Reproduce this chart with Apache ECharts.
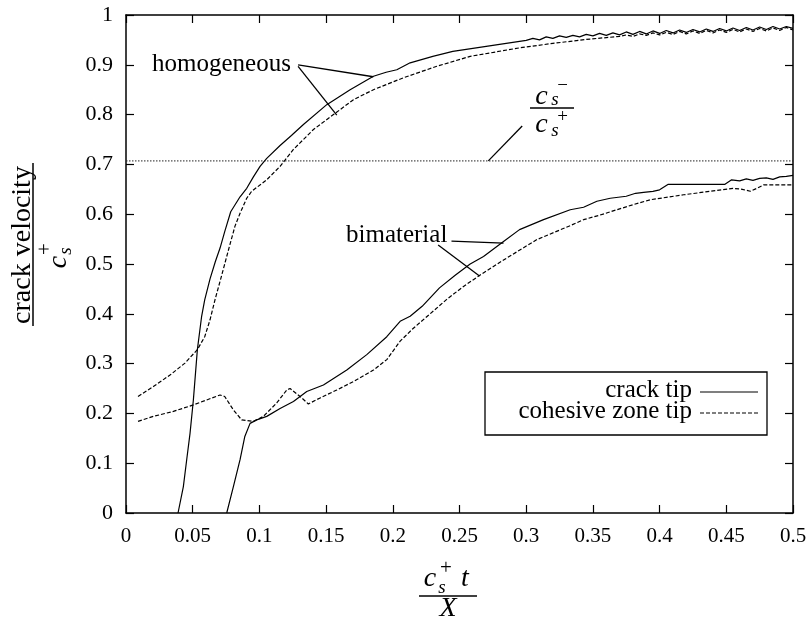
<!DOCTYPE html>
<html>
<head>
<meta charset="utf-8">
<script src="https://cdn.jsdelivr.net/npm/echarts@6/dist/echarts.min.js"></script>
<style>
  html, body { margin: 0; padding: 0; background: #fff; }
  #chart { width: 810px; height: 621px; }
</style>
</head>
<body>
<div id="chart"></div>
<script>
// Crack-tip and cohesive-zone-tip velocities (normalised by c_s^+) versus c_s^+ t / X

// homogeneous case, crack tip
const homCrackTip = [
  [0.039, 0], [0.043, 0.053], [0.0455, 0.107], [0.048, 0.16], [0.0505, 0.227],
  [0.0535, 0.328], [0.0567, 0.395], [0.059, 0.428], [0.063, 0.47], [0.067, 0.505],
  [0.0705, 0.532], [0.074, 0.565], [0.0785, 0.605], [0.0855, 0.635], [0.0905, 0.652],
  [0.0955, 0.675], [0.1005, 0.696], [0.1055, 0.712], [0.1155, 0.738], [0.124, 0.758],
  [0.133, 0.78], [0.1505, 0.82], [0.168, 0.85], [0.1855, 0.877], [0.195, 0.885],
  [0.203, 0.89], [0.213, 0.904], [0.23, 0.917], [0.245, 0.927], [0.27, 0.937],
  [0.295, 0.947], [0.30, 0.949], [0.305, 0.953], [0.31, 0.950], [0.315, 0.956],
  [0.32, 0.953], [0.325, 0.958], [0.33, 0.955], [0.335, 0.959], [0.34, 0.956],
  [0.345, 0.961], [0.35, 0.958], [0.355, 0.963], [0.36, 0.959], [0.365, 0.964],
  [0.37, 0.960], [0.375, 0.966], [0.38, 0.961], [0.385, 0.967], [0.39, 0.962],
  [0.395, 0.968], [0.40, 0.963], [0.405, 0.969], [0.41, 0.964], [0.415, 0.970],
  [0.42, 0.965], [0.425, 0.971], [0.43, 0.966], [0.435, 0.972], [0.44, 0.967],
  [0.445, 0.973], [0.45, 0.968], [0.455, 0.974], [0.46, 0.969], [0.465, 0.975],
  [0.47, 0.970], [0.475, 0.976], [0.48, 0.971], [0.485, 0.977], [0.49, 0.972],
  [0.495, 0.977], [0.5, 0.973]
];

// homogeneous case, cohesive zone tip
const homZoneTip = [
  [0.009, 0.234], [0.0205, 0.254], [0.033, 0.277], [0.0442, 0.301], [0.0535, 0.328],
  [0.059, 0.354], [0.063, 0.388], [0.0667, 0.428], [0.071, 0.47], [0.0745, 0.505],
  [0.078, 0.54], [0.0817, 0.576], [0.0855, 0.602], [0.0905, 0.632], [0.0942, 0.646],
  [0.1055, 0.669], [0.1155, 0.696], [0.1255, 0.73], [0.1405, 0.77], [0.1555, 0.80],
  [0.1705, 0.83], [0.1855, 0.85], [0.208, 0.874], [0.233, 0.897], [0.258, 0.917],
  [0.295, 0.934], [0.32, 0.943], [0.345, 0.951], [0.37, 0.957], [0.375, 0.960],
  [0.38, 0.957], [0.385, 0.962], [0.39, 0.959], [0.395, 0.964], [0.40, 0.960],
  [0.405, 0.965], [0.41, 0.961], [0.415, 0.967], [0.42, 0.962], [0.425, 0.968],
  [0.43, 0.963], [0.435, 0.969], [0.44, 0.964], [0.445, 0.970], [0.45, 0.965],
  [0.455, 0.971], [0.46, 0.966], [0.465, 0.972], [0.47, 0.967], [0.475, 0.973],
  [0.48, 0.968], [0.485, 0.974], [0.49, 0.969], [0.495, 0.975], [0.5, 0.970]
];

// bimaterial case, crack tip
const bimCrackTip = [
  [0.0755, 0], [0.0805, 0.053], [0.0855, 0.107], [0.089, 0.153], [0.093, 0.18],
  [0.098, 0.187], [0.1055, 0.194], [0.1155, 0.21], [0.1255, 0.224], [0.1355, 0.244],
  [0.148, 0.257], [0.1655, 0.287], [0.1805, 0.318], [0.1955, 0.354], [0.2055, 0.385],
  [0.213, 0.395], [0.222, 0.415], [0.235, 0.452], [0.247, 0.478], [0.258, 0.50],
  [0.268, 0.515], [0.283, 0.545], [0.295, 0.569], [0.313, 0.589], [0.333, 0.609],
  [0.343, 0.614], [0.353, 0.626], [0.363, 0.632], [0.375, 0.636], [0.382, 0.642],
  [0.388, 0.644], [0.395, 0.646], [0.40, 0.649], [0.4065, 0.66], [0.449, 0.66],
  [0.454, 0.669], [0.46, 0.667], [0.465, 0.671], [0.47, 0.668], [0.475, 0.672],
  [0.48, 0.673], [0.485, 0.670], [0.49, 0.675], [0.495, 0.676], [0.5, 0.678]
];

// bimaterial case, cohesive zone tip
const bimZoneTip = [
  [0.009, 0.184], [0.0205, 0.194], [0.0355, 0.204], [0.0505, 0.217], [0.0605, 0.227],
  [0.0705, 0.237], [0.074, 0.234], [0.0805, 0.207], [0.0867, 0.187], [0.0955, 0.184],
  [0.103, 0.194], [0.113, 0.221], [0.1205, 0.247], [0.123, 0.25], [0.1305, 0.234],
  [0.1367, 0.219], [0.1455, 0.231], [0.158, 0.247], [0.1705, 0.264], [0.1855, 0.287],
  [0.1955, 0.308], [0.2055, 0.345], [0.215, 0.37], [0.228, 0.40], [0.24, 0.428],
  [0.253, 0.455], [0.265, 0.477], [0.283, 0.508], [0.308, 0.549], [0.333, 0.577],
  [0.343, 0.589], [0.355, 0.598], [0.368, 0.609], [0.38, 0.619], [0.393, 0.629],
  [0.418, 0.639], [0.438, 0.646], [0.455, 0.652], [0.462, 0.650], [0.468, 0.646],
  [0.473, 0.652], [0.478, 0.659], [0.5, 0.659]
];

// wave-speed ratio c_s^- / c_s^+
const speedRatio = [[0, 0.707], [0.5, 0.707]];

// axis ranges
const xRange = [0, 0.5, 0.05];
const yRange = [0, 1, 0.1];

const serif = '"Liberation Serif", "Times New Roman", serif';
const black = '#000';

const chart = echarts.init(document.getElementById('chart'), null, { renderer: 'canvas' });

function xAxisDef(pos, labels) {
  return {
    type: 'value', position: pos, min: xRange[0], max: xRange[1], interval: xRange[2],
    axisLine: { show: true, onZero: false, lineStyle: { color: black, width: 1.5 } },
    axisTick: { show: true, inside: true, length: 8, lineStyle: { color: black, width: 1.2 } },
    axisLabel: { show: labels, color: black, fontFamily: serif, fontSize: 21, margin: 13 },
    splitLine: { show: false }
  };
}
function yAxisDef(pos, labels) {
  return {
    type: 'value', position: pos, min: yRange[0], max: yRange[1], interval: yRange[2],
    axisLine: { show: true, onZero: false, lineStyle: { color: black, width: 1.5 } },
    axisTick: { show: true, inside: true, length: 8, lineStyle: { color: black, width: 1.2 } },
    axisLabel: { show: labels, color: black, fontFamily: serif, fontSize: 22, margin: 13 },
    splitLine: { show: false }
  };
}

function lineSeries(name, data, dashed) {
  return {
    name, type: 'line', data, symbol: 'none', silent: true, smooth: false,
    xAxisIndex: 0, yAxisIndex: 0, clip: true,
    lineStyle: { color: black, width: 1.2, type: dashed ? [4, 2] : 'solid' }
  };
}

chart.setOption({
  animation: false,
  backgroundColor: '#fff',
  grid: { left: 126, right: 17, top: 15, bottom: 108 },
  xAxis: [xAxisDef('bottom', true), xAxisDef('top', false)],
  yAxis: [yAxisDef('left', true), yAxisDef('right', false)],
  series: [
    lineSeries('homogeneous crack tip', homCrackTip, false),
    lineSeries('homogeneous cohesive zone tip', homZoneTip, true),
    lineSeries('bimaterial crack tip', bimCrackTip, false),
    lineSeries('bimaterial cohesive zone tip', bimZoneTip, true),
    {
      name: 'c_s- / c_s+', type: 'line', data: speedRatio, symbol: 'none', silent: true,
      lineStyle: { color: '#222', width: 1, type: [1.5, 1.5] }
    }
  ]
});

// convert a data point to pixels
const px = (p) => chart.convertToPixel({ xAxisIndex: 0, yAxisIndex: 0 }, p);

function txt(text, x, y, size, opts) {
  opts = opts || {};
  return {
    type: 'text', x, y, rotation: opts.rotation || 0, silent: true,
    style: {
      text, fill: black,
      font: (opts.italic ? 'italic ' : '') + size + 'px ' + serif,
      align: opts.align || 'center', verticalAlign: 'middle',
      textAlign: opts.align || 'center', textVerticalAlign: 'middle'
    }
  };
}
function seg(a, b, w, dash) {
  return {
    type: 'line', silent: true,
    shape: { x1: a[0], y1: a[1], x2: b[0], y2: b[1] },
    style: { stroke: black, lineWidth: w || 1.3, lineDash: dash || null }
  };
}

const R = Math.PI / 2;
const graphics = [
  // y-axis title: crack velocity / c_s^+
  txt('crack velocity', 22.5, 245, 28, { rotation: R }),
  seg([33, 163], [33, 326], 1.5),
  txt('c', 59, 262, 28, { rotation: R, italic: true }),
  txt('s', 66, 251, 19, { rotation: R, italic: true }),
  txt('+', 45, 249, 21, { rotation: R }),

  // x-axis title: c_s^+ t / X
  txt('c', 430, 579, 28, { italic: true }),
  txt('s', 442, 588, 19, { italic: true }),
  txt('+', 446, 568, 21),
  txt('t', 465, 579, 28, { italic: true }),
  seg([419, 596], [477, 596], 1.5),
  txt('X', 448, 609, 28, { italic: true }),

  // curve labels
  txt('homogeneous', 152, 64, 25, { align: 'left' }),
  seg(px([0.129, 0.90]), px([0.1854, 0.876])),
  seg(px([0.129, 0.897]), px([0.158, 0.799])),
  txt('bimaterial', 346, 235, 25, { align: 'left' }),
  seg(px([0.244, 0.546]), px([0.283, 0.542])),
  seg(px([0.234, 0.538]), px([0.265, 0.476])),

  // wave-speed ratio label
  seg(px([0.2716, 0.707]), px([0.297, 0.777])),
  txt('c', 541.5, 96.5, 28, { italic: true }),
  txt('s', 555, 99.5, 19, { italic: true }),
  txt('\u2212', 562.5, 86, 19),
  seg([530, 108], [574, 108], 1.3),
  txt('c', 541.5, 125, 28, { italic: true }),
  txt('s', 555, 131, 19, { italic: true }),
  txt('+', 562.5, 117, 19),

  // legend
  { type: 'rect', silent: true, shape: { x: 485, y: 372, width: 282, height: 63 },
    style: { fill: '#fff', stroke: black, lineWidth: 1.3 } },
  txt('crack tip', 692, 390, 25, { align: 'right' }),
  seg([700, 392], [758, 392], 1.2),
  txt('cohesive zone tip', 692, 411, 25, { align: 'right' }),
  seg([700, 413], [758, 413], 1.2, [4, 2])
];

chart.setOption({ graphic: { elements: graphics } });
</script>
</body>
</html>
